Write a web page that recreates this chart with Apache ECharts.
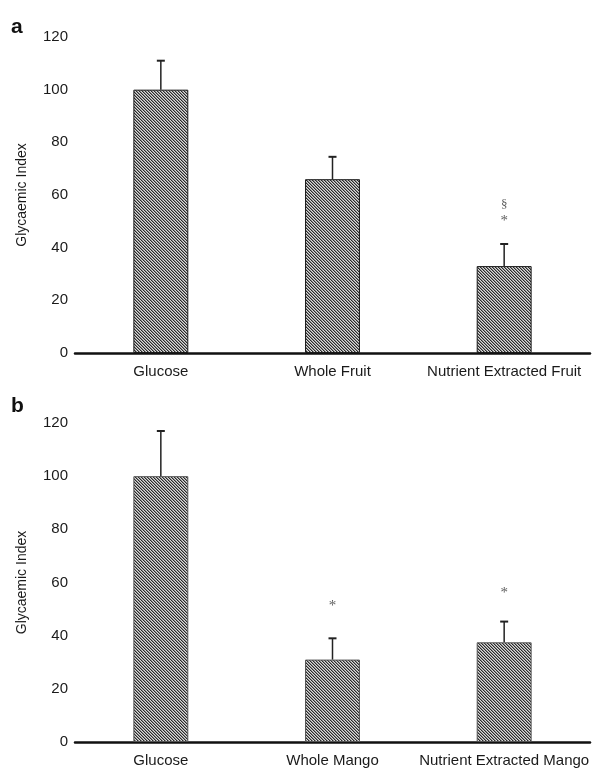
<!DOCTYPE html>
<html><head><meta charset="utf-8">
<script src="https://cdn.jsdelivr.net/npm/echarts@6/dist/echarts.min.js"></script>
<style>html,body{margin:0;padding:0;background:#fff}#c{width:607px;height:768px}</style>
</head><body><div id="c"></div>
<script>
const categoriesA = ['Glucose', 'Whole Fruit', 'Nutrient Extracted Fruit'];
const valuesA = [100, 66, 33];
const errorsA = [11, 8.5, 8.4];
const marksA = [[2, 50, '*'], [2, 56.5, '§']];

const categoriesB = ['Glucose', 'Whole Mango', 'Nutrient Extracted Mango'];
const valuesB = [100, 31, 37.5];
const errorsB = [17, 8, 7.8];
const marksB = [[1, 51, '*'], [2, 56, '*']];

const yTicks = [0, 20, 40, 60, 80, 100, 120];

function makePattern() {
  const n = 6;
  const c = document.createElement('canvas');
  c.width = n; c.height = n;
  const ctx = c.getContext('2d');
  for (let y = 0; y < n; y++) {
    for (let x = 0; x < n; x++) {
      const d = ((x - y) % 3 + 3) % 3;
      ctx.fillStyle = d === 0 ? '#2a2a2a' : (d === 1 ? '#8c8c8c' : '#dadada');
      ctx.fillRect(x, y, 1, 1);
    }
  }
  return c;
}
const pat = makePattern();

const font = '"Liberation Sans", Arial, sans-serif';
const chart = echarts.init(document.getElementById('c'));

function yAxis(gi) {
  return {
    gridIndex: gi, type: 'value', min: yTicks[0], max: yTicks[yTicks.length - 1], interval: yTicks[1] - yTicks[0],
    name: 'Glycaemic Index', nameLocation: 'middle', nameGap: 46,
    nameTextStyle: { fontFamily: font, fontSize: 14, color: '#1a1a1a' },
    axisLine: { show: false }, axisTick: { show: false }, splitLine: { show: false },
    axisLabel: { fontFamily: font, fontSize: 15, color: '#1a1a1a', margin: 7 }
  };
}
function xAxis(gi, cats) {
  return {
    gridIndex: gi, type: 'category', data: cats,
    axisLine: { lineStyle: { color: '#111', width: 2.5 } },
    axisTick: { show: false },
    axisLabel: { fontFamily: font, fontSize: 15, color: '#1a1a1a', margin: 11, interval: 0 }
  };
}
function barSeries(gi, vals, border) {
  return {
    type: 'bar', xAxisIndex: gi, yAxisIndex: gi, data: vals, barWidth: '32%',
    itemStyle: { color: { image: pat, repeat: 'repeat' }, borderColor: border, borderWidth: 1 },
    z: 2
  };
}
function errSeries(gi, vals, errs) {
  return {
    type: 'custom', xAxisIndex: gi, yAxisIndex: gi,
    data: vals.map((v, i) => [i, v, v + errs[i]]),
    renderItem: function (params, api) {
      const b = api.coord([api.value(0), api.value(1)]);
      const t = api.coord([api.value(0), api.value(2)]);
      return {
        type: 'group', children: [
          { type: 'line', shape: { x1: b[0], y1: b[1], x2: t[0], y2: t[1] }, style: { stroke: '#222', lineWidth: 1.5 } },
          { type: 'line', shape: { x1: t[0] - 4, y1: t[1], x2: t[0] + 4, y2: t[1] }, style: { stroke: '#222', lineWidth: 2 } }
        ]
      };
    }, z: 3
  };
}
function markSeries(gi, marks) {
  return {
    type: 'scatter', xAxisIndex: gi, yAxisIndex: gi, symbolSize: 0,
    data: marks.map(m => ({ value: [m[0], m[1]], label: { formatter: m[2], fontSize: m[2] === '*' ? 15 : 13 } })),
    label: { show: true, position: 'inside', fontFamily: '"Liberation Serif", serif', color: '#333' },
    silent: true
  };
}

chart.setOption({
  animation: false,
  grid: [
    { left: 75, right: 17, top: 37, height: 316 },
    { left: 75, right: 17, top: 423, height: 320 }
  ],
  graphic: [
    { type: 'text', left: 11, top: 17, style: { text: 'a', font: 'bold 21px "Liberation Sans", Arial', fill: '#111' } },
    { type: 'text', left: 11, top: 396, style: { text: 'b', font: 'bold 21px "Liberation Sans", Arial', fill: '#111' } }
  ],
  xAxis: [xAxis(0, categoriesA), xAxis(1, categoriesB)],
  yAxis: [yAxis(0), yAxis(1)],
  series: [
    barSeries(0, valuesA, '#1a1a1a'), errSeries(0, valuesA, errorsA), markSeries(0, marksA),
    barSeries(1, valuesB, '#555'), errSeries(1, valuesB, errorsB), markSeries(1, marksB)
  ]
});
</script></body></html>
